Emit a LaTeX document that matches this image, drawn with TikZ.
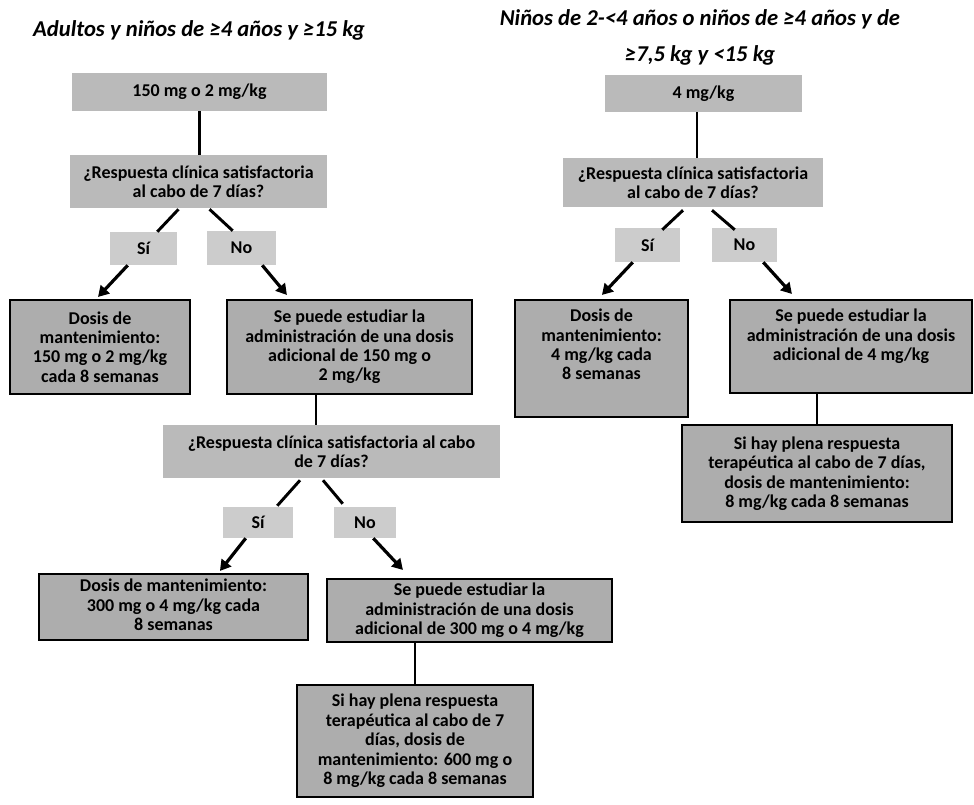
\documentclass[tikz,border=0pt]{standalone}
\usepackage{fontspec}
\setmainfont{Carlito}
\usetikzlibrary{calc,fit,arrows.meta}
\begin{document}
\begin{tikzpicture}[x=0.75pt,y=-0.75pt,
  gbox/.style={fill=black!27, draw=none, inner sep=0pt},
  bbox/.style={fill=black!32, draw=black, line width=1.6pt, inner sep=0pt},
  ybox/.style={fill=black!20, draw=none, inner sep=0pt},
  txt/.style={font=\fontsize{13.5}{14.6}\selectfont\bfseries, align=center, inner sep=0pt},
  ttl/.style={font=\fontsize{17}{27}\selectfont\bfseries\itshape, align=center, inner sep=0pt},
  link/.style={line width=2.2pt},
  arr/.style={line width=2.4pt, -{Triangle[length=8pt,width=9pt]}},
]
\fill[white] (0,0) rectangle (974,804);
\useasboundingbox (0,0) rectangle (974,804);

% ---------- left column ----------
\node[ttl] (tl) at (199,30) {Adultos y niños de ≥4 años y ≥15 kg};

\node[gbox, fit={(72,73)(327,111)}] (a) {};
\node[txt] at (a.center) {150 mg o 2 mg/kg};

\node[gbox, fit={(70,155)(327,208)}] (b) {};
\node[txt] at (b.center) {¿Respuesta clínica satisfactoria\\al cabo de 7 días?};

\node[ybox, fit={(110,232)(177,265)}] (si) {};
\node[txt] at (si.center) {Sí};
\node[ybox, fit={(207,231)(276,265)}] (no) {};
\node[txt] at (no.center) {No};

\node[bbox, fit={(10,300)(190,394)}] (c) {};
\node[txt] at (c.center) {Dosis de\\mantenimiento:\\150 mg o 2 mg/kg\\cada 8 semanas};

\node[bbox, fit={(227,300)(472,394)}] (d) {};
\node[txt] at (d.center) {Se puede estudiar la\\administración de una dosis\\adicional de 150 mg o\\2 mg/kg};

\node[gbox, fit={(163,425)(500,478)}] (e) {};
\node[txt] at (e.center) {¿Respuesta clínica satisfactoria al cabo\\de 7 días?};

\node[ybox, fit={(223,507)(293,538)}] (si2) {};
\node[txt] at (si2.center) {Sí};
\node[ybox, fit={(334,507)(396,538)}] (no2) {};
\node[txt] at (no2.center) {No};

\node[bbox, fit={(39,574)(308,640)}] (f) {};
\node[txt] at ($(f.center)+(0,-2)$) {Dosis de mantenimiento:\\300 mg o 4 mg/kg cada\\8 semanas};

\node[bbox, fit={(327,579)(612,642)}] (g) {};
\node[txt] at (g.center) {Se puede estudiar la\\administración de una dosis\\adicional de 300 mg o 4 mg/kg};

\node[bbox, fit={(297,685)(533,797)}] (h) {};
\node[txt] at (h.center) {Si hay plena respuesta\\terapéutica al cabo de 7\\días, dosis de\\mantenimiento: 600 mg o\\8 mg/kg cada 8 semanas};

% left connectors
\draw[link] (a.south) -- (a.south |- b.north);
\draw[link] ($(b.south)+(-20,1)$) -- ($(si.north east)+(-20,0)$);
\draw[link] ($(b.south)+(11,1)$) -- ($(no.north west)+(26,0)$);
\draw[arr] ($(si.south west)+(18,0)$) -- ($(c.north)+(-2,-2)$);
\draw[arr] ($(no.south east)+(-14,0)$) -- ($(d.north west)+(61,-4)$);
\draw[link] ($(d.south)+(-33.5,0)$) coordinate (t1) -- (t1 |- e.north);
\draw[link] ($(e.south)+(-31.5,2)$) -- ($(si2.north east)+(-16,-1)$);
\draw[link] ($(e.south)+(-8.5,2)$) -- ($(no2.north west)+(9,-3)$);
\draw[arr] ($(si2.south west)+(23,0)$) -- ($(f.north west)+(182,-2)$);
\draw[arr] ($(no2.south east)+(-23,0)$) -- ($(g.north west)+(77,-8)$);
\draw[link] (g.south -| h.north) -- (h.north);

% ---------- right column ----------
\node[ttl] (tr) at (700,37) {Niños de 2-<4 años o niños de ≥4 años y de\\≥7,5 kg y <15 kg};

\node[gbox, fit={(605,75)(802,112)}] (ra) {};
\node[txt] at (ra.center) {4 mg/kg};

\node[gbox, fit={(563,158)(823,207)}] (rb) {};
\node[txt] at (rb.center) {¿Respuesta clínica satisfactoria\\al cabo de 7 días?};

\node[ybox, fit={(615,228)(680,262)}] (rsi) {};
\node[txt] at (rsi.center) {Sí};
\node[ybox, fit={(712,228)(777,262)}] (rno) {};
\node[txt] at (rno.center) {No};

\node[bbox, fit={(515,300)(688,417)}] (rc) {};
\node[txt] at ($(rc.center)+(0,-14)$) {Dosis de\\mantenimiento:\\4 mg/kg cada\\8 semanas};

\node[bbox, fit={(730,300)(972,393)}] (rd) {};
\node[txt] at ($(rd.center)+(0,-10)$) {Se puede estudiar la\\administración de una dosis\\adicional de 4 mg/kg};

\node[bbox, fit={(682,425)(952,522)}] (re) {};
\node[txt] at (re.center) {Si hay plena respuesta\\terapéutica al cabo de 7 días,\\dosis de mantenimiento:\\8 mg/kg cada 8 semanas};

% right connectors
\draw[link] ($(ra.south)+(-6.5,0)$) coordinate (t2) -- (t2 |- rb.north);
\draw[link] ($(rb.south)+(-10,3)$) -- ($(rsi.north east)+(-18,2)$);
\draw[link] ($(rb.south)+(19,3)$) -- ($(rno.north west)+(23,2)$);
\draw[arr] ($(rsi.south west)+(18,0)$) -- ($(rc.north west)+(88,-4)$);
\draw[arr] ($(rno.south east)+(-14,0)$) -- ($(rd.north west)+(63,-5)$);
\draw[link] (rd.south -| re.north) -- (re.north);
\end{tikzpicture}
\end{document}
